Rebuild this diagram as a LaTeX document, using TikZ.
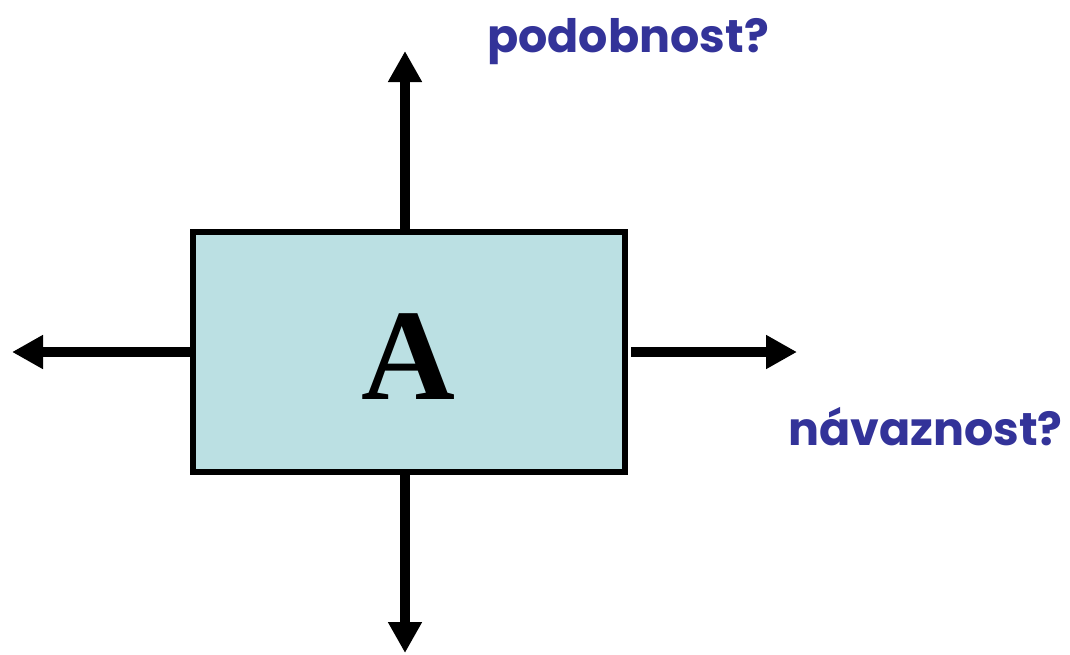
\documentclass[tikz,border=0pt]{standalone}
\usepackage{fontspec}
\setmainfont{Liberation Serif}
\newfontfamily\labelfont{Poppins}
\usetikzlibrary{arrows.meta}
\definecolor{boxfill}{RGB}{187,224,227}
\definecolor{labelblue}{RGB}{51,51,153}
\tikzset{
  boxstyle/.style={draw=black, fill=boxfill, line width=6pt, minimum width=432pt, minimum height=240pt, inner sep=0pt, outer sep=3pt},
  bigarrow/.style={line width=10pt, -{Triangle[width=32pt,length=31pt]}},
  qlabel/.style={text=labelblue, font=\labelfont\bfseries\fontsize{46}{52}\selectfont, inner sep=0pt, anchor=base west}
}
\begin{document}
\begin{tikzpicture}[x=1pt,y=-1pt]
\useasboundingbox (0,0) rectangle (1070,654);
\node[boxstyle] (box) at (409,352) {};
\node[font=\bfseries\fontsize{130}{130}\selectfont, inner sep=0pt] (A) at (408,357) {A};
\coordinate (up) at (405,51);
\coordinate (down) at (405,653);
\coordinate (left) at (12,352);
\coordinate (right) at (797,352);
\draw[bigarrow] (box.north -| up) -- (up);
\draw[bigarrow] (box.south -| down) -- (down);
\draw[bigarrow] (box.west |- left) -- (left);
\draw[bigarrow] ([xshift=3pt]box.east |- right) -- (right);
\node[qlabel] (sim) at (487,52) {podobnost?};
\node[qlabel] (seq) at (788,445) {návaznost?};
\end{tikzpicture}
\end{document}
